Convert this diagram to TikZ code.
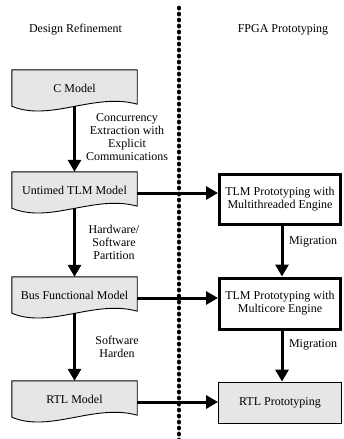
\documentclass[tikz,border=0pt]{standalone}
\usepackage{fontspec}
\setmainfont{Liberation Serif}
\usetikzlibrary{arrows.meta,calc,backgrounds}
\definecolor{boxgray}{RGB}{230,230,230}
\newcommand\docoutline[1]{%
  \filldraw[docline] (#1.north west) -- (#1.north east) -- ($(#1.south east)+(0,-2)$)
    .. controls ($(#1.south west)+(83,-14)$) and ($(#1.south west)+(38,16)$) .. (#1.south west) -- cycle;}
\begin{document}
\begin{tikzpicture}[x=1pt,y=-1pt,
  every node/.style={font=\fontsize{12}{13}\selectfont},
  docnode/.style={minimum width=125pt,minimum height=36pt,inner sep=0pt,align=center},
  docline/.style={draw=black,line width=0.9pt,fill=boxgray},
  thickbox/.style={draw=black,line width=3pt,fill=white,minimum width=121pt,inner sep=0pt,align=center},
  thinbox/.style={draw=black,line width=0.9pt,fill=boxgray,minimum width=123pt,minimum height=41pt,inner sep=0pt,align=center},
  arr/.style={line width=3pt,-{Triangle[length=12pt,width=13pt]}},
  lbl/.style={align=center,inner sep=0pt}]
\useasboundingbox (0,0) rectangle (343,439);

% headings
\node (h1) at (75.5,30) {Design Refinement};
\node (h2) at (283,30) {FPGA Prototyping};

% separator
\coordinate (sepTop) at (179,7.5);
\coordinate (sepBot) at (179,441);
\draw[line width=3.6pt,line cap=round,dash pattern=on 1.2pt off 4.8pt] (sepTop) -- (sepBot);

% document nodes
\node[docnode] (cm) at (74.5,88) {C Model};
\node[docnode] (ut) at (74.5,190) {Untimed TLM Model};
\node[docnode] (bf) at (74.5,295) {Bus Functional Model};
\node[docnode] (rm) at (74.5,399) {RTL Model};
\begin{scope}[on background layer]
\docoutline{cm}
\docoutline{ut}
\docoutline{bf}
\docoutline{rm}
\end{scope}

% right boxes
\node[thickbox,minimum height=50pt] (t1) at (280,199) {TLM Prototyping with\\Multithreaded Engine};
\node[thickbox,minimum height=51pt] (t2) at (280,303.5) {TLM Prototyping with\\Multicore Engine};
\node[thinbox] (rp) at (280,402.5) {RTL Prototyping};

% vertical arrows left
\draw[arr] (cm.south) -- (ut.north);
\draw[arr] (ut.south) -- (bf.north);
\draw[arr] (bf.south) -- (rm.north);

% horizontal arrows
\draw[arr] ([yshift=-3pt]ut.east) -- ([yshift=-3pt]ut.east -| t1.west);
\draw[arr] ([yshift=-3pt]bf.east) -- ([yshift=-3pt]bf.east -| t2.west);
\draw[arr] ([yshift=-3pt]rm.east) -- ([yshift=-3pt]rm.east -| rp.west);

% vertical arrows right
\draw[arr] ([xshift=2pt]t1.south) -- ([xshift=2pt]t2.north);
\draw[arr] ([xshift=2pt]t2.south) -- ([xshift=2pt]rp.north);

% labels
\node[lbl] (l1) at (127,137) {Concurrency\\Extraction with\\Explicit\\Communications};
\node[lbl] (l2) at (114,242) {Hardware/\\Software\\Partition};
\node[lbl] (l3) at (117,347) {Software\\Harden};
\node[lbl] (l4) at (313,242) {Migration};
\node[lbl] (l5) at (313,345) {Migration};
\end{tikzpicture}
\end{document}
